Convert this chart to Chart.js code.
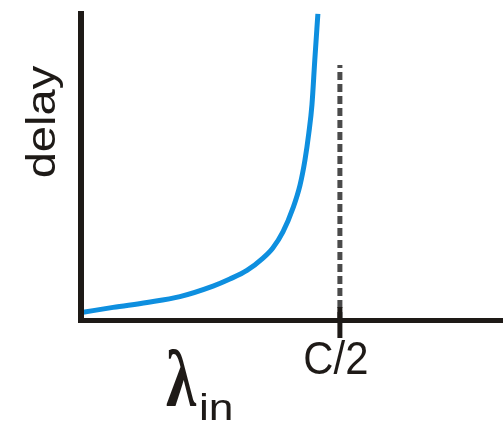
<!DOCTYPE html>
<html>
<head>
<meta charset="utf-8">
<script src="https://cdn.jsdelivr.net/npm/chart.js@4/dist/chart.umd.min.js"></script>
<style>
  html, body { margin: 0; padding: 0; background: #ffffff; }
  #wrap { position: relative; width: 503px; height: 421px; }
</style>
</head>
<body>
<div id="wrap"><canvas id="c"></canvas></div>
<script>
// arrival rate (in units where C/2 = 1) and the resulting delay
const lambdaIn = [0.008, 0.124, 0.255, 0.382, 0.510, 0.575, 0.641, 0.703, 0.741, 0.780, 0.819, 0.846, 0.865, 0.880, 0.892, 0.903, 0.915];
const delay    = [0.25, 0.41, 0.57, 0.76, 1.10, 1.33, 1.61, 2.01, 2.34, 2.86, 3.64, 4.38, 5.19, 6.07, 6.98, 8.44, 9.94];
// capacity marker at C/2
const capacityX = [1, 1];
const capacityY = [0, 8.28];
const tickValues = [1];
const tickLabels = ['C/2'];
const xTitle = 'λ';
const xTitleSub = 'in';
const yTitle = 'delay';

const curveData = lambdaIn.map((x, i) => ({ x: x, y: delay[i] }));
const capData = capacityX.map((x, i) => ({ x: x, y: capacityY[i] }));

const axisColor = '#1e1a17';

const axesPlugin = {
  id: 'axesPlugin',
  afterDatasetsDraw(chart) {
    const ctx = chart.ctx;
    const a = chart.chartArea;
    const xs = chart.scales.x;
    ctx.save();
    ctx.strokeStyle = axisColor;
    ctx.lineCap = 'butt';
    // y axis
    ctx.lineWidth = 6;
    ctx.beginPath();
    ctx.moveTo(a.left, a.top - 1);
    ctx.lineTo(a.left, a.bottom + 3);
    ctx.stroke();
    // x axis
    ctx.lineWidth = 5;
    ctx.beginPath();
    ctx.moveTo(a.left - 3, a.bottom + 0.5);
    ctx.lineTo(a.right, a.bottom + 0.5);
    ctx.stroke();
    // tick marks
    ctx.lineWidth = 5;
    tickValues.forEach(v => {
      const px = xs.getPixelForValue(v);
      ctx.beginPath();
      ctx.moveTo(px, a.bottom - 13);
      ctx.lineTo(px, a.bottom + 18);
      ctx.stroke();
    });
    // tick labels
    ctx.fillStyle = axisColor;
    ctx.textAlign = 'center';
    ctx.textBaseline = 'alphabetic';
    tickValues.forEach((v, i) => {
      const px = xs.getPixelForValue(v);
      ctx.save();
      ctx.translate(px - 4, a.bottom + 54);
      ctx.scale(0.95, 1.05);
      ctx.font = '44px "Liberation Sans", Arial, sans-serif';
      ctx.fillText(tickLabels[i], 0, 0);
      ctx.restore();
    });
    // y title (rotated)
    ctx.save();
    ctx.translate(55, 122);
    ctx.rotate(-Math.PI / 2);
    ctx.scale(1.15, 1);
    ctx.font = '41px "Liberation Sans", Arial, sans-serif';
    ctx.textAlign = 'center';
    ctx.fillText(yTitle, 0, 0);
    ctx.restore();
    // x title
    ctx.save();
    ctx.textAlign = 'left';
    ctx.save();
    ctx.translate(166, 406);
    ctx.scale(0.85, 1.12);
    ctx.font = 'bold 72px "Liberation Serif", serif';
    ctx.fillText(xTitle, 0, 0);
    ctx.restore();
    ctx.font = '37px "Liberation Sans", Arial, sans-serif';
    ctx.save();
    ctx.translate(199, 420);
    ctx.scale(1.2, 1);
    ctx.fillText(xTitleSub, 0, 0);
    ctx.restore();
    ctx.restore();
    ctx.restore();
  }
};

new Chart(document.getElementById('c'), {
  type: 'line',
  data: {
    datasets: [
      {
        data: curveData,
        borderColor: '#0e8fdf',
        borderWidth: 5,
        pointRadius: 0,
        fill: false,
        cubicInterpolationMode: 'monotone',
        clip: false
      },
      {
        data: capData,
        borderColor: '#4a4a4a',
        borderWidth: 5,
        borderDash: [8, 4],
        pointRadius: 0,
        fill: false,
        clip: false
      }
    ]
  },
  options: {
    responsive: true,
    maintainAspectRatio: false,
    devicePixelRatio: 1,
    animation: false,
    layout: { padding: { left: 81, top: 12, right: 0, bottom: 101 } },
    plugins: { legend: { display: false }, tooltip: { enabled: false } },
    scales: {
      x: { type: 'linear', display: false, min: 0, max: 1.63 },
      y: { type: 'linear', display: false, min: 0, max: 10 }
    }
  },
  plugins: [axesPlugin]
});
</script>
</body>
</html>
